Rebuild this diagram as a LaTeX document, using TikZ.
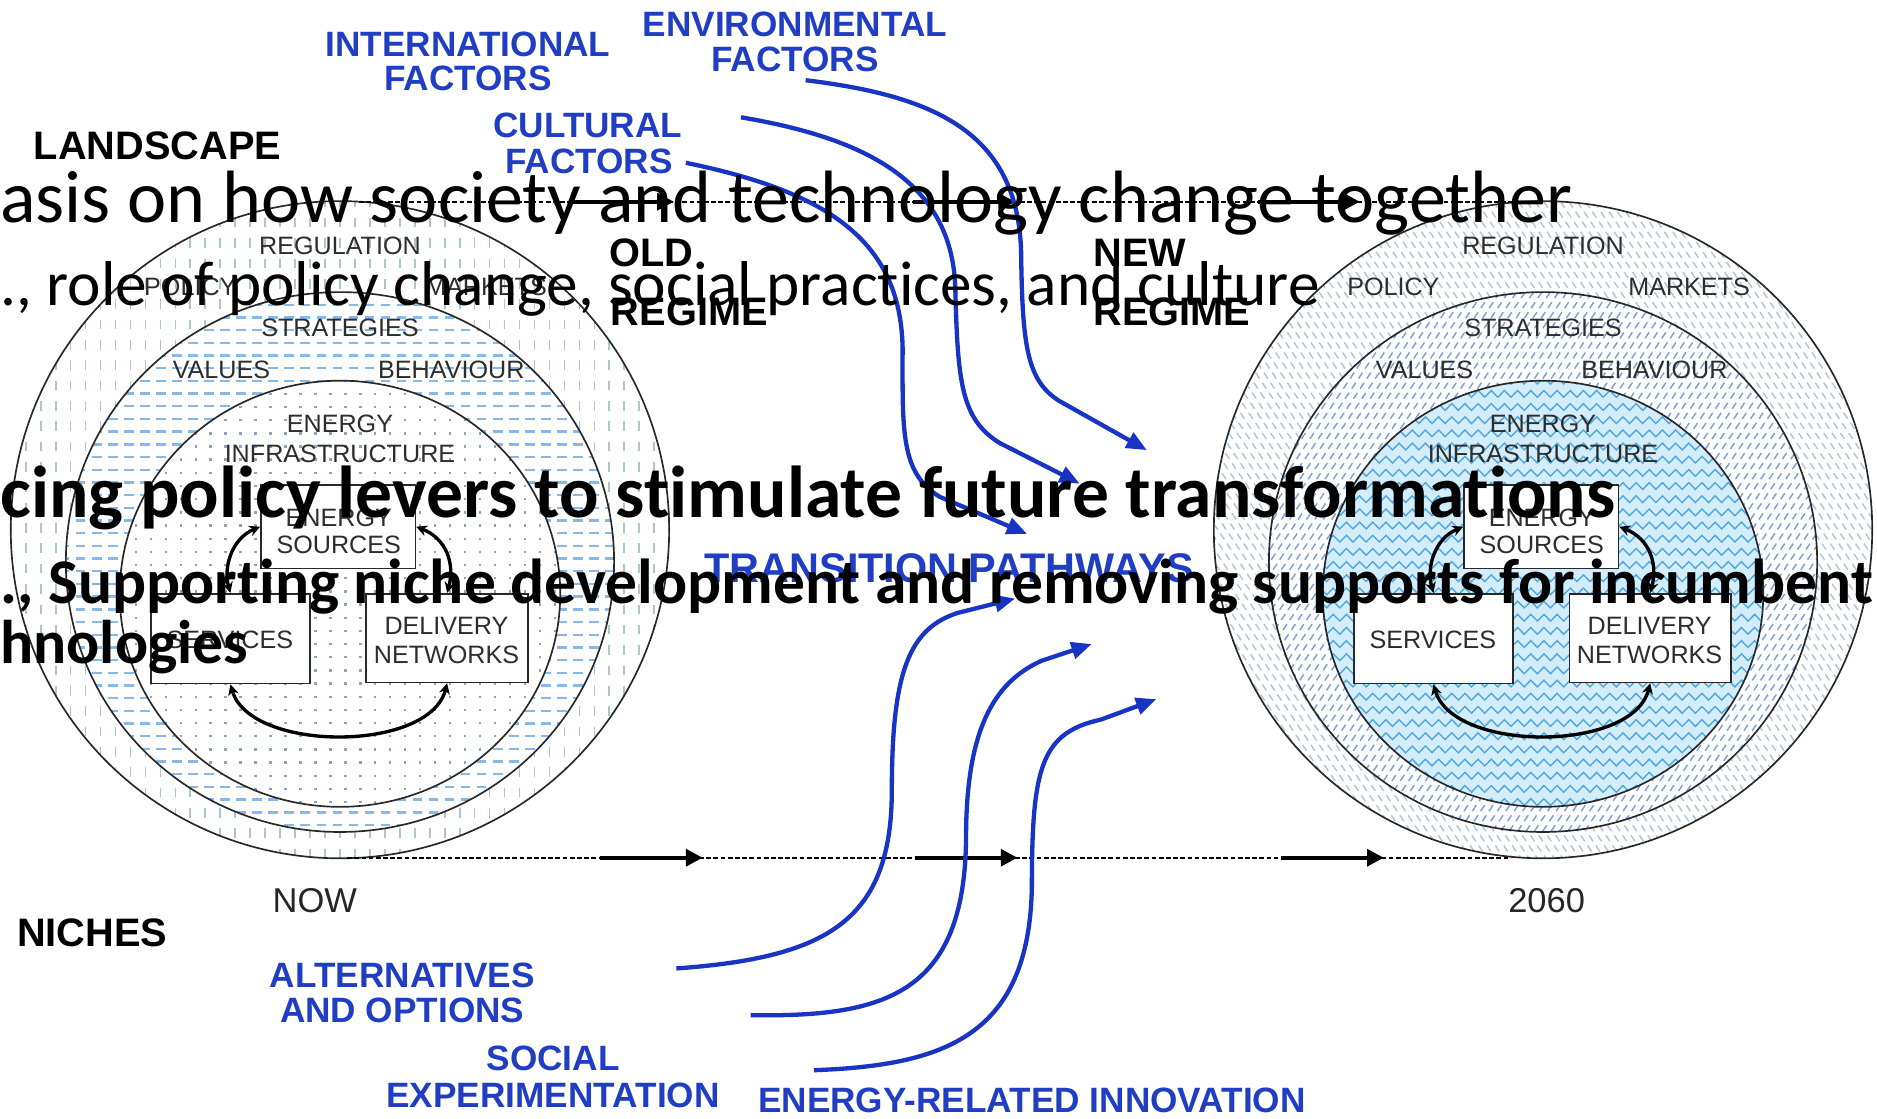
\documentclass[tikz,border=0pt]{standalone}
\usepackage{fontspec}
\setmainfont{Liberation Sans}
\newfontfamily\ovfont[Ligatures=NoCommon]{Carlito}
\usetikzlibrary{arrows.meta,decorations.pathmorphing,calc}

\definecolor{pathblue}{RGB}{24,52,196}
\definecolor{labelblue}{RGB}{32,62,196}
\definecolor{labelgray}{RGB}{45,45,45}
\definecolor{ringline}{RGB}{40,40,40}
\definecolor{vdash}{RGB}{170,200,200}
\definecolor{hdash}{RGB}{135,185,232}
\definecolor{dotc}{RGB}{140,165,190}
\definecolor{bslash}{RGB}{175,198,215}
\definecolor{fslash}{RGB}{125,160,215}
\definecolor{zigc}{RGB}{80,170,225}
\definecolor{zigfill}{RGB}{212,237,250}

% rings, labels, boxes and the supply loop of one regime, centred at x=#1
\newcommand\regimeparts[2]{%
  \draw[ring] (#1,442.5) ellipse [x radius=275, y radius=274.5];
  \draw[ring] (#1,469.5) ellipse [x radius=229, y radius=225.5];
  \draw[ring] (#1,496) ellipse [x radius=184, y radius=178];
  \node[glabel] (#2reg) at (#1,212.5) {REGULATION};
  \node[glabel] (#2pol) at (#1-125,247) {POLICY};
  \node[glabel] (#2mkt) at (#1+122,247) {MARKETS};
  \node[glabel] (#2str) at (#1,281) {STRATEGIES};
  \node[glabel] (#2val) at (#1-99,316.5) {VALUES};
  \node[glabel] (#2beh) at (#1+93,316.5) {BEHAVIOUR};
  \node[glabel] (#2inf1) at (#1,361.5) {ENERGY};
  \node[glabel] (#2inf2) at (#1,386) {INFRASTRUCTURE};
  \node[cbox, minimum width=64.5pt, minimum height=35pt] (#2es) at (#1-1.5,440) {};
  \node[cbox, minimum width=66.5pt, minimum height=37.5pt] (#2serv) at (#1-91.5,533.5) {};
  \node[cbox, minimum width=67.5pt, minimum height=37pt] (#2del) at (#1+89.5,533) {};
  \node[glabel] (#2es1) at (#1-1,440) {ENERGY};
  \node[glabel] (#2es2) at (#1-1,462) {SOURCES};
  \node[glabel] (#2sv) at (#1-92,541.5) {SERVICES};
  \node[glabel] (#2dl1) at (#1+89,530) {DELIVERY};
  \node[glabel] (#2dl2) at (#1+89,554) {NETWORKS};
  \draw[loopline] (#2serv.north) .. controls +(-6,-21) and +(-24,10) .. (#2es.west);
  \draw[loopline] (#2es.east) .. controls +(25.5,10) and +(6.5,-24) .. (#2del.north);
  \draw[loopline] (#2serv.south) .. controls +(16.5,57) and +(-14.5,58) .. (#2del.south);
}

\begin{document}
\begin{tikzpicture}[x=0.5pt,y=-0.5pt,
  glabel/.style={inner sep=0, anchor=base, text=labelgray, font=\fontsize{10.5}{12}\selectfont},
  blabel/.style={inner sep=0, anchor=base, text=labelblue, font=\fontsize{14.7}{16}\selectfont\bfseries},
  klabel/.style={inner sep=0, anchor=base west, text=black, font=\fontsize{16.6}{18}\selectfont\bfseries},
  tlabel/.style={inner sep=0, anchor=base, text=black!85, font=\fontsize{14.4}{16}\selectfont},
  ring/.style={draw=ringline, line width=0.7pt},
  cbox/.style={draw=ringline, fill=white, line width=0.7pt, inner sep=0},
  loopline/.style={black, line width=1.4pt, {Stealth[length=4.5pt,width=4.5pt]}-{Stealth[length=4.5pt,width=4.5pt]}},
  pressure/.style={pathblue, line width=1.8pt, -{Triangle[length=8.5pt,width=7pt]}},
  tdash/.style={black, line width=0.9pt, dash pattern=on 2pt off 1pt},
  tsolid/.style={black, line width=1.6pt, -{Triangle[length=7pt,width=7pt]}},
  ovl/.style={inner sep=0, anchor=base west, text=black}]

\useasboundingbox (0,0) rectangle (1568,934);

% ---------- old regime: hatched rings ----------
\begin{scope}
  \clip (284,442.5) ellipse [x radius=275, y radius=274.5];
  \foreach \i in {0,...,46}
    \draw[vdash, line width=0.7pt, dash pattern=on 4pt off 4.5pt] (-3.5+\i*12.5,165) -- ++(0,560);
\end{scope}
\fill[white] (284,469.5) ellipse [x radius=229, y radius=225.5];
\begin{scope}
  \clip (284,469.5) ellipse [x radius=229, y radius=225.5];
  \foreach \j in {0,...,43}
    \draw[hdash, line width=1pt, dash pattern=on 4pt off 2.7pt] (50,244+\j*10.6) -- ++(470,0);
\end{scope}
\fill[white] (284,496) ellipse [x radius=184, y radius=178];
\begin{scope}
  \clip (284,496) ellipse [x radius=184, y radius=178];
  \foreach \j in {0,...,33}
    \draw[dotc, line width=1pt, dash pattern=on 1pt off 5.25pt] (100,318+\j*11) -- ++(370,0);
\end{scope}

% ---------- new regime: hatched rings ----------
\begin{scope}
  \clip (1289,442.5) ellipse [x radius=275, y radius=274.5];
  \foreach \i in {0,...,140}
    \draw[bslash, line width=0.6pt, dash pattern=on 3pt off 2.05pt] (640+\i*7,160) -- ++(380,570);
\end{scope}
\fill[white] (1289,469.5) ellipse [x radius=229, y radius=225.5];
\begin{scope}
  \clip (1289,469.5) ellipse [x radius=229, y radius=225.5];
  \foreach \i in {0,...,118}
    \draw[fslash, line width=0.6pt, dash pattern=on 3pt off 2.05pt] (980+\i*7,160) -- ++(-380,570);
\end{scope}
\fill[zigfill] (1289,496) ellipse [x radius=184, y radius=178];
\begin{scope}
  \clip (1289,496) ellipse [x radius=184, y radius=178];
  \foreach \j in {0,...,33}
    \draw[zigc, line width=0.6pt, decorate, decoration={zigzag, segment length=5.5pt, amplitude=1.4pt}] (1100,318+\j*11) -- ++(380,0);
\end{scope}

\regimeparts{284}{o}
\regimeparts{1289}{n}

% ---------- landscape and time lines ----------
\coordinate (ls0) at (300,168.5);
\coordinate (ls1) at (1285,168.5);
\draw[tdash] (ls0) -- (ls1);
\draw[tsolid] (478,168.5) -- (563,168.5);
\draw[tsolid] (763,168.5) -- (848,168.5);
\draw[tsolid] (1051,168.5) -- (1136,168.5);

\coordinate (tl0) at (290,716.5);
\coordinate (tl1) at (1262,716.5);
\draw[tdash] (tl0) -- (tl1);
\draw[tsolid] (501,716.5) -- (587,716.5);
\draw[tsolid] (764,716.5) -- (850,716.5);
\draw[tsolid] (1070,716.5) -- (1156,716.5);

% ---------- level labels ----------
\node[klabel] (land) at (28,133) {LANDSCAPE};
\node[klabel] (niches) at (14,791) {NICHES};
\node[klabel] (old1) at (509,223) {OLD};
\node[klabel] (old2) at (510,271.5) {REGIME};
\node[klabel] (new1) at (913,223) {NEW};
\node[klabel] (new2) at (913,271.5) {REGIME};
\node[tlabel] (now) at (263,762) {NOW};
\node[tlabel] (yr) at (1292,762) {2060};

% ---------- pressures ----------
\node[blabel] (intl1) at (391,47.5) {INTERNATIONAL};
\node[blabel] (intl2) at (391,76) {FACTORS};
\node[blabel] (env1) at (664,30.5) {ENVIRONMENTAL};
\node[blabel] (env2) at (664,60) {FACTORS};
\node[blabel] (cult1) at (491,114.5) {CULTURAL};
\node[blabel] (cult2) at (492,145) {FACTORS};
\node[inner sep=0, anchor=base west, text=labelblue, font=\fontsize{17.3}{18}\selectfont\bfseries] (trans) at (588,487) {TRANSITION PATHWAYS};
\node[blabel] (alt1) at (336,824.5) {ALTERNATIVES};
\node[blabel] (alt2) at (336,854.5) {AND OPTIONS};
\node[blabel] (soc1) at (462,894) {SOCIAL};
\node[blabel] (soc2) at (462,925) {EXPERIMENTATION};
\node[blabel] (eri) at (862,929.5) {ENERGY-RELATED INNOVATION};

\coordinate (pa0) at (673,67);   \coordinate (pa1) at (958,376);
\coordinate (pb0) at (619,98);   \coordinate (pb1) at (902,404);
\coordinate (pc0) at (573,136);  \coordinate (pc1) at (858,446);
\coordinate (pd0) at (565,809);  \coordinate (pd1) at (848,500);
\coordinate (pe0) at (627,848);  \coordinate (pe1) at (912,538);
\coordinate (pf0) at (680,894);  \coordinate (pf1) at (966,584);

\draw[pressure] (pa0) .. controls (780,80) and (850,110) .. (853,210)
  .. controls (854,290) and (858,318) .. (885,335) -- (pa1);
\draw[pressure] (pb0) .. controls (720,115) and (795,150) .. (798,240)
  .. controls (800,320) and (803,350) .. (835,370) -- (pb1);
\draw[pressure] (pc0) .. controls (690,160) and (752,200) .. (754,290)
  .. controls (754,360) and (752,395) .. (785,415) -- (pc1);
\draw[pressure] (pd0) .. controls (690,800) and (745,770) .. (745,660)
  .. controls (745,560) and (760,525) .. (800,512) -- (pd1);
\draw[pressure] (pe0) .. controls (740,850) and (806,830) .. (807,700)
  .. controls (807,610) and (830,570) .. (870,552) -- (pe1);
\draw[pressure] (pf0) .. controls (790,890) and (860,865) .. (862,740)
  .. controls (862,640) and (870,612) .. (920,601) -- (pf1);

% ---------- slide text ----------
\node[ovl] (ov1) at (0,185.5) {\resizebox{656.5pt}{!}{\ovfont\fontsize{20}{24}\selectfont asis on how society and technology change together}};
\node[ovl] (ov2) at (0,255) {\resizebox{551pt}{!}{\ovfont\fontsize{20}{24}\selectfont ., role of policy change, social practices, and culture}};
\node[ovl] (ov3) at (0,432) {\resizebox{674.5pt}{!}{\ovfont\bfseries\fontsize{20}{24}\selectfont cing policy levers to stimulate future transformations}};
\node[ovl] (ov4) at (0,504) {\resizebox{782pt}{!}{\ovfont\bfseries\fontsize{20}{24}\selectfont ., Supporting niche development and removing supports for incumbent}};
\node[ovl] (ov5) at (0,554) {\resizebox{103.5pt}{!}{\ovfont\bfseries\fontsize{20}{24}\selectfont hnologies}};

\end{tikzpicture}
\end{document}
